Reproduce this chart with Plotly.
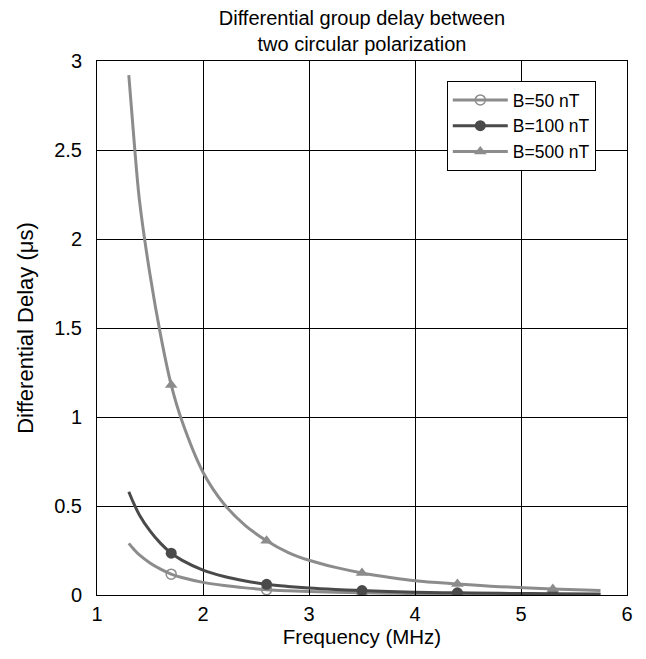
import plotly.graph_objects as go

# values
freq = [1.3, 1.35, 1.4, 1.5, 1.6, 1.7, 1.8, 2.0, 2.2, 2.4, 2.6, 2.8, 3.0,
        3.25, 3.5, 3.75, 4.0, 4.4, 4.8, 5.3, 5.75]
delay_50 = [0.29, 0.255, 0.225, 0.18, 0.145, 0.117, 0.098, 0.071, 0.053, 0.04,
            0.03, 0.024, 0.0195, 0.0155, 0.0125, 0.01, 0.008, 0.006, 0.0048,
            0.0035, 0.0025]
delay_100 = [0.58, 0.51, 0.45, 0.36, 0.29, 0.235, 0.196, 0.14, 0.104, 0.079,
             0.06, 0.048, 0.039, 0.031, 0.025, 0.02, 0.016, 0.012, 0.0095,
             0.007, 0.005]
delay_500 = [2.92, 2.55, 2.22, 1.80, 1.46, 1.18, 0.98, 0.69, 0.51, 0.39, 0.305,
             0.24, 0.195, 0.155, 0.124, 0.10, 0.08, 0.062, 0.047, 0.034, 0.025]
marker_freqs = [1.7, 2.6, 3.5, 4.4, 5.3]

series = [
    ("B=50 nT", delay_50, "#8c8c8c", dict(symbol="circle-open", size=10, line=dict(width=1.5))),
    ("B=100 nT", delay_100, "#4a4a4a", dict(symbol="circle", size=11)),
    ("B=500 nT", delay_500, "#8c8c8c", dict(symbol="triangle-up", size=11)),
]

idx = [freq.index(f) for f in marker_freqs]

fig = go.Figure()
for name, vals, col, mk in series:
    fig.add_trace(go.Scatter(x=freq, y=vals, mode="lines", line=dict(color=col, width=3, shape="spline"),
                             showlegend=False, hoverinfo="skip"))
    fig.add_trace(go.Scatter(x=[freq[i] for i in idx], y=[vals[i] for i in idx], mode="markers",
                             marker=dict(color=col, **mk), showlegend=False))
    # legend entry only
    fig.add_trace(go.Scatter(x=[None], y=[None], mode="lines+markers", name=name,
                             line=dict(color=col, width=3), marker=dict(color=col, **mk)))

axis_common = dict(showgrid=True, gridcolor="black", gridwidth=1, showline=True, linecolor="black",
                   linewidth=1, mirror=True, ticks="inside", ticklen=5, tickcolor="black",
                   zeroline=False, automargin=False, tickfont=dict(size=20, color="black"))

fig.update_layout(
    width=630, height=643,
    margin=dict(l=89, r=11, t=53, b=56),
    paper_bgcolor="white", plot_bgcolor="white",
    font=dict(family="Liberation Sans, Arial, sans-serif", color="black", size=20),
    title=dict(text="Differential group delay between<br>two circular polarization",
               x=0.5, xref="paper", xanchor="center", y=0.974, yref="container", yanchor="top",
               pad=dict(t=0, b=0), font=dict(size=20)),
    xaxis=dict(range=[1, 6], dtick=1, ticklabelstandoff=1,
               title=dict(text="Frequency (MHz)", standoff=3, font=dict(size=20.5)), **axis_common),
    yaxis=dict(range=[0, 3], dtick=0.5, ticklabelstandoff=10,
               title=dict(text="Differential Delay (μs)", standoff=14, font=dict(size=22)), **axis_common),
    legend=dict(x=0.66, y=0.9625, xanchor="left", yanchor="top", bgcolor="white", bordercolor="black",
                borderwidth=1, font=dict(size=17.5), tracegroupgap=0, itemwidth=55),
)

fig.write_html("out.html")
